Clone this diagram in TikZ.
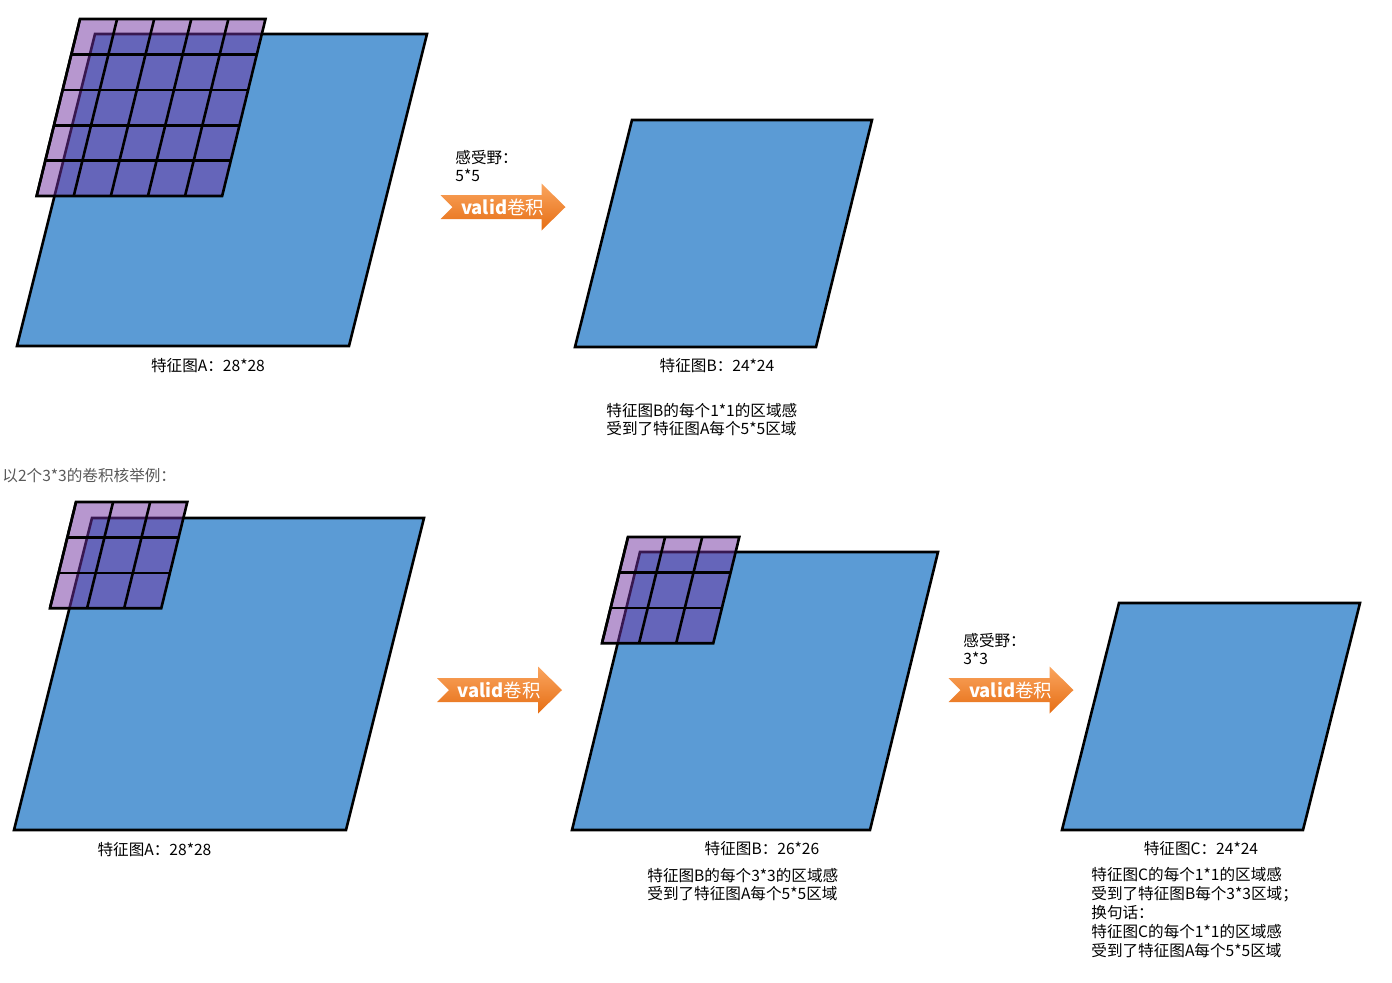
\documentclass[tikz,border=0pt]{standalone}
\usepackage{fontspec}
\setmainfont{Noto Sans CJK SC}
\usepackage{tikz}
\usetikzlibrary{positioning}

\definecolor{mapblue}{RGB}{91,155,213}
\definecolor{kernelpurple}{RGB}{112,48,160}
\definecolor{arrowlight}{RGB}{250,165,95}
\definecolor{arrowdark}{RGB}{230,110,20}
\definecolor{notegray}{RGB}{89,89,89}
\newcommand{\txtsize}{\fontsize{7.8}{9.4}\selectfont}
\newcommand{\arrsize}{\fontsize{9.2}{11}\selectfont}

\tikzstyle{fmap} = [draw=black, line width=1.3pt, fill=mapblue]
\tikzstyle{kernel} = [fill=kernelpurple, fill opacity=0.5]
\tikzstyle{gridline} = [black, line width=1.3pt]
\tikzstyle{caption} = [inner sep=0pt, font=\txtsize]
\tikzstyle{note} = [caption, align=left, anchor=west]
\tikzstyle{arrowtext} = [text=white, font=\arrsize, inner sep=0pt]
\tikzset{
  validarrow/.pic={
    \shade[top color=arrowlight, bottom color=arrowdark]
      (-62,-12) -- (39,-12) -- (39,-23.5) -- (63,0) -- (39,23.5) -- (39,12) -- (-62,12) -- (-50,0) -- cycle;
    \node[arrowtext] (-text) at (0,0) {\textbf{valid}卷积};
  },
  kernelgrid/.pic={
    \begin{scope}[xslant=0.245]
      \fill[kernel] (0,0) rectangle (#1*37.1,#1*35.4);
      \foreach \k in {1,...,#1} {
        \draw[gridline] (\k*37.1-37.1,0) -- (\k*37.1-37.1,#1*35.4);
        \draw[gridline] (0,\k*35.4-35.4) -- (#1*37.1,\k*35.4-35.4);
      }
      \draw[gridline] (0,0) rectangle (#1*37.1,#1*35.4);
    \end{scope}
  }
}

\begin{document}
\begin{tikzpicture}[x=0.5pt, y=-0.5pt]
\useasboundingbox (0,0) rectangle (1392,982);

% top row: one 5*5 kernel
\draw[fmap] (95,34) -- (427,34) -- (349,346) -- (17,346) -- cycle;
\pic (kerA) at (80,19) {kernelgrid=5};
\pic (conv1) at (502.5,207) {validarrow};
\draw[fmap] (632,120) -- (872,120) -- (816,347) -- (575,347) -- cycle;

\node[note] (rf1) at (455,166) {感受野：\\5*5};
\node[caption] (capA1) at (208,366) {特征图A：28*28};
\node[caption] (capB1) at (717,366) {特征图B：24*24};
\node[note] (noteB1) at (606,419.5) {特征图B的每个1*1的区域感\\受到了特征图A每个5*5区域};

% bottom row: two 3*3 kernels
\node[note, text=notegray] (intro) at (2,476) {以2个3*3的卷积核举例：};

\draw[fmap] (92,518) -- (424,518) -- (346,830) -- (14,830) -- cycle;
\pic (kerA2) at (76,502) {kernelgrid=3};
\pic (conv2) at (499,690) {validarrow};
\draw[fmap] (640,552) -- (938,552) -- (870,830) -- (572,830) -- cycle;
\pic (kerB2) at (628,537) {kernelgrid=3};
\pic (conv3) at (1010.5,690) {validarrow};
\draw[fmap] (1119,603) -- (1360,603) -- (1303,830) -- (1062,830) -- cycle;

\node[note] (rf2) at (963,649) {感受野：\\3*3};
\node[caption] (capA2) at (154.5,850) {特征图A：28*28};
\node[caption] (capB2) at (762,849) {特征图B：26*26};
\node[note] (noteB2) at (647,884.5) {特征图B的每个3*3的区域感\\受到了特征图A每个5*5区域};
\node[caption] (capC) at (1201,849) {特征图C：24*24};
\node[note] (noteC) at (1091,912.5) {特征图C的每个1*1的区域感\\受到了特征图B每个3*3区域；\\换句话：\\特征图C的每个1*1的区域感\\受到了特征图A每个5*5区域};
\end{tikzpicture}
\end{document}
